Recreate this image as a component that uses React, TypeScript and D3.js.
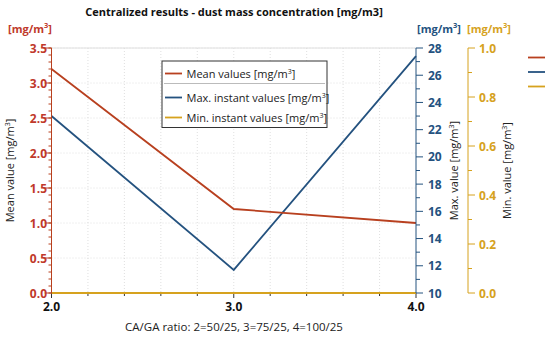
import React from 'react'
import * as d3 from 'd3'

const ratios = [2, 3, 4]
const meanValues = [3.2, 1.2, 1.0]
const maxValues = [23.0, 11.7, 27.4]
const minValues = [0, 0, 0]

const seriesNames = [
  'Mean values [mg/m',
  'Max. instant values [mg/m',
  'Min. instant values [mg/m',
]

const RED = '#b8401f'
const RED_TXT = '#c0392b'
const BLUE = '#24527f'
const GOLD = '#d6a21e'
const FONT = '"Open Sans", "Noto Sans", sans-serif'

const W = 550
const H = 339
const left = 51.5
const right = 416
const top = 48
const bottom = 293
const goldX = 468

const Unit = ({ x, y, color, anchor = 'start' }: any) => (
  <text x={x} y={y} fill={color} fontWeight="bold" fontSize={11} textAnchor={anchor}>
    [mg/m<tspan dy={-5} fontSize={7.5}>3</tspan>
    <tspan dy={5}>]</tspan>
  </text>
)

export default function App() {
  const x = d3.scaleLinear().domain([2, 4]).range([left, right])
  const yL = d3.scaleLinear().domain([0, 3.5]).range([bottom, top])
  const yB = d3.scaleLinear().domain([10, 28]).range([bottom, top])
  const yG = d3.scaleLinear().domain([0, 1]).range([bottom, top])

  const lineOf = (scale: d3.ScaleLinear<number, number>, vals: number[]) =>
    d3.line<number>().x((_, i) => x(ratios[i])).y((v) => scale(v))(vals) || ''

  const xMinor = d3.range(2, 4.0001, 0.2)
  const leftMajor = d3.range(0, 3.5001, 0.5)
  const leftMinor = d3.range(0, 3.5001, 0.1)
  const blueMajor = d3.range(10, 28.001, 2)
  const blueMinor = d3.range(11, 28, 2)
  const goldMajor = d3.range(0, 1.0001, 0.2)
  const goldMinor = d3.range(0.1, 1, 0.2)

  return (
    <svg width={W} height={H} style={{ position: 'absolute', left: 0, top: 0, fontFamily: FONT }}>
      <rect width={W} height={H} fill="white" />
      <text x={234} y={16} textAnchor="middle" fontSize={11} fontWeight="bold" fill="#111">
        Centralized results - dust mass concentration [mg/m3]
      </text>

      {/* grid */}
      <g stroke="#d8d8d8" strokeWidth={0.8} strokeDasharray="1,2">
        {xMinor.slice(1, -1).map((v) => (
          <line key={'gx' + v} x1={x(v)} x2={x(v)} y1={top} y2={bottom} />
        ))}
        {leftMajor.slice(1).map((v) => (
          <line key={'gy' + v} x1={left} x2={right} y1={yL(v)} y2={yL(v)} />
        ))}
      </g>
      <line x1={left} x2={right} y1={top} y2={top} stroke="#e0e0e0" />

      {/* series */}
      <path d={lineOf(yB, maxValues)} fill="none" stroke={BLUE} strokeWidth={1.8} />
      <path d={lineOf(yL, meanValues)} fill="none" stroke={RED} strokeWidth={1.8} />

      {/* x axis */}
      <line x1={left} x2={right} y1={bottom} y2={bottom} stroke="#333" />
      {xMinor.map((v, i) => (
        <line key={'xt' + i} x1={x(v)} x2={x(v)} y1={bottom} y2={bottom + (i % 5 === 0 ? 5 : 3)} stroke="#333" />
      ))}
      {ratios.map((v) => (
        <text key={'xl' + v} x={x(v)} y={bottom + 18} textAnchor="middle" fontSize={12} fontWeight="bold" fill="#111">
          {v.toFixed(1)}
        </text>
      ))}
      <path d={lineOf(yG, minValues)} fill="none" stroke={GOLD} strokeWidth={2} />
      <text x={234} y={331} textAnchor="middle" fontSize={11.5} fill="#222">
        CA/GA ratio: 2=50/25, 3=75/25, 4=100/25
      </text>

      {/* left axis */}
      <line x1={left} x2={left} y1={top} y2={bottom} stroke={RED} />
      {leftMinor.map((v, i) => (
        <line key={'lm' + i} x1={left - 3} x2={left} y1={yL(v)} y2={yL(v)} stroke={RED} />
      ))}
      {leftMajor.map((v) => (
        <g key={'lt' + v}>
          <line x1={left - 7} x2={left} y1={yL(v)} y2={yL(v)} stroke={RED} />
          <text x={47} y={yL(v) + 4.5} textAnchor="end" fontSize={12} fontWeight="bold" fill={RED_TXT}>
            {v.toFixed(1)}
          </text>
        </g>
      ))}
      <Unit x={8} y={33} color={RED_TXT} />
      <text transform={`translate(14,${(top + bottom) / 2}) rotate(-90)`} textAnchor="middle" fontSize={11} fill="#222">
        Mean value [mg/m<tspan dy={-4} fontSize={7}>3</tspan>
        <tspan dy={4}>]</tspan>
      </text>

      {/* blue axis */}
      <line x1={right} x2={right} y1={top} y2={bottom} stroke={BLUE} />
      {blueMinor.map((v) => (
        <line key={'bm' + v} x1={right} x2={right + 4} y1={yB(v)} y2={yB(v)} stroke={BLUE} />
      ))}
      {blueMajor.map((v) => (
        <g key={'bt' + v}>
          <line x1={right} x2={right + 7} y1={yB(v)} y2={yB(v)} stroke={BLUE} />
          <text x={428} y={yB(v) + 4.5} fontSize={12} fontWeight="bold" fill={BLUE}>
            {v}
          </text>
        </g>
      ))}
      <Unit x={417} y={33} color={BLUE} />
      <text transform={`translate(458,${(top + bottom) / 2}) rotate(-90)`} textAnchor="middle" fontSize={11} fill="#222">
        Max. value [mg/m<tspan dy={-4} fontSize={7}>3</tspan>
        <tspan dy={4}>]</tspan>
      </text>

      {/* gold axis */}
      <line x1={goldX} x2={goldX} y1={top} y2={bottom} stroke={GOLD} />
      {goldMinor.map((v) => (
        <line key={'gm' + v} x1={goldX} x2={goldX + 4} y1={yG(v)} y2={yG(v)} stroke={GOLD} />
      ))}
      {goldMajor.map((v) => (
        <g key={'gt' + v}>
          <line x1={goldX} x2={goldX + 7} y1={yG(v)} y2={yG(v)} stroke={GOLD} />
          <text x={479} y={yG(v) + 4.5} fontSize={12} fontWeight="bold" fill={GOLD}>
            {v.toFixed(1)}
          </text>
        </g>
      ))}
      <Unit x={467} y={33} color={GOLD} />
      <text transform={`translate(511,${(top + bottom) / 2}) rotate(-90)`} textAnchor="middle" fontSize={11} fill="#222">
        Min. value [mg/m<tspan dy={-4} fontSize={7}>3</tspan>
        <tspan dy={4}>]</tspan>
      </text>

      {/* legend */}
      <rect x={162} y={61} width={165} height={66.5} fill="white" stroke="#333" />
      <line x1={164} x2={325} y1={83.5} y2={83.5} stroke="#bbb" />
      {seriesNames.map((n, i) => {
        const cy = [73.5, 97.5, 117.5][i]
        const col = [RED, BLUE, GOLD][i]
        return (
          <g key={n}>
            <line x1={165} x2={182} y1={cy} y2={cy} stroke={col} strokeWidth={1.8} />
            <text x={186.5} y={cy + 4} fontSize={11} fill="#222">
              {n}
              <tspan dy={-4} fontSize={7}>3</tspan>
              <tspan dy={4}>]</tspan>
            </text>
          </g>
        )
      })}

      {/* side legend */}
      {[RED, BLUE, GOLD].map((c, i) => (
        <line key={c} x1={528} x2={545} y1={57.5 + i * 14.5} y2={57.5 + i * 14.5} stroke={c} strokeWidth={1.8} />
      ))}
    </svg>
  )
}
